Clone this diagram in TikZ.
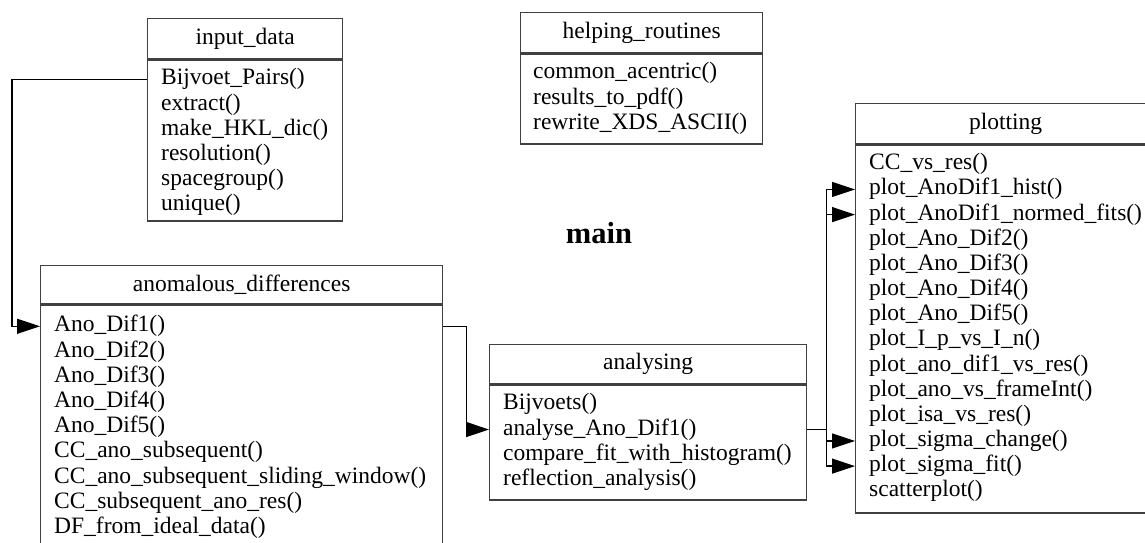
\documentclass[tikz,border=0pt]{standalone}
\usepackage{fontspec}
\setmainfont{Liberation Serif}
\usetikzlibrary{calc,arrows.meta}

\tikzset{
  box/.style={draw=black!75, line width=1.3pt, inner sep=0pt, anchor=north west,
    font=\fontsize{23.5}{25}\selectfont},
  row/.style={anchor=west, inner sep=0pt, text height=16pt, text depth=5pt,
    font=\fontsize{23.5}{25}\selectfont},
  link/.style={line width=1.4pt, -{Triangle[length=23pt,width=15pt]}},
}

\begin{document}
\begin{tikzpicture}[x=1pt, y=-1pt]
  \clip (0,0) rectangle (1145,542);

  % input_data
  \node[box, minimum width=195, minimum height=40] (inp-h) at (147,18) {input\_data};
  \node[box, minimum width=195, minimum height=161] (inp) at (inp-h.south west) {};
  \foreach \m [count=\i] in {Bijvoet\_Pairs(), extract(), make\_HKL\_dic(),
      resolution(), spacegroup(), unique()}
    \node[row] (inp-\i) at ($(inp.north west)+(14,20+25.2*\i-25.2)$) {\m};

  % helping_routines
  \node[box, minimum width=242, minimum height=40] (help-h) at (520,12) {helping\_routines};
  \node[box, minimum width=242, minimum height=90] (help) at (help-h.south west) {};
  \foreach \m [count=\i] in {common\_acentric(), results\_to\_pdf(), rewrite\_XDS\_ASCII()}
    \node[row] (help-\i) at ($(help.north west)+(13,20+25.2*\i-25.2)$) {\m};

  % anomalous_differences
  \node[box, minimum width=402, minimum height=38] (ad-h) at (40,265) {anomalous\_differences};
  \node[box, minimum width=402, minimum height=260] (ad) at (ad-h.south west) {};
  \foreach \m [count=\i] in {Ano\_Dif1(), Ano\_Dif2(), Ano\_Dif3(), Ano\_Dif4(), Ano\_Dif5(),
      CC\_ano\_subsequent(), CC\_ano\_subsequent\_sliding\_window(),
      CC\_subsequent\_ano\_res(), DF\_from\_ideal\_data()}
    \node[row] (ad-\i) at ($(ad.north west)+(14,22+25.2*\i-25.2)$) {\m};

  % analysing
  \node[box, minimum width=317, minimum height=39] (ana-h) at (489,344) {analysing};
  \node[box, minimum width=317, minimum height=115] (ana) at (ana-h.south west) {};
  \foreach \m [count=\i] in {Bijvoets(), analyse\_Ano\_Dif1(),
      compare\_fit\_with\_histogram(), reflection\_analysis()}
    \node[row] (ana-\i) at ($(ana.north west)+(14,20+25.2*\i-25.2)$) {\m};

  % plotting
  \node[box, minimum width=300, minimum height=40] (plot-h) at (855,103) {plotting};
  \node[box, minimum width=300, minimum height=368] (plot) at (plot-h.south west) {};
  \foreach \m [count=\i] in {CC\_vs\_res(), plot\_AnoDif1\_hist(), plot\_AnoDif1\_normed\_fits(),
      plot\_Ano\_Dif2(), plot\_Ano\_Dif3(), plot\_Ano\_Dif4(), plot\_Ano\_Dif5(),
      plot\_I\_p\_vs\_I\_n(), plot\_ano\_dif1\_vs\_res(), plot\_ano\_vs\_frameInt(),
      plot\_isa\_vs\_res(), plot\_sigma\_change(), plot\_sigma\_fit(), scatterplot()}
    \node[row] (plot-\i) at ($(plot.north west)+(14,20+25.15*\i-25.15)$) {\m};

  \node[font=\fontsize{30.5}{32}\selectfont\bfseries, anchor=base] (main) at (599,243) {main};

  % calls
  \draw[link] (inp.west |- inp-1) -- ++(-135,0) |- (ad.west |- ad-1);
  \draw[link] (ad.east |- ad-1) -- ++(23,0) |- (ana.west |- ana-2);
  \coordinate (fork) at ($(ana.east |- ana-2)+(19,0)$);
  \foreach \k in {2,3,12,13}
    \draw[link] (ana.east |- ana-2) -- (fork) |- (plot.west |- plot-\k);
\end{tikzpicture}
\end{document}
